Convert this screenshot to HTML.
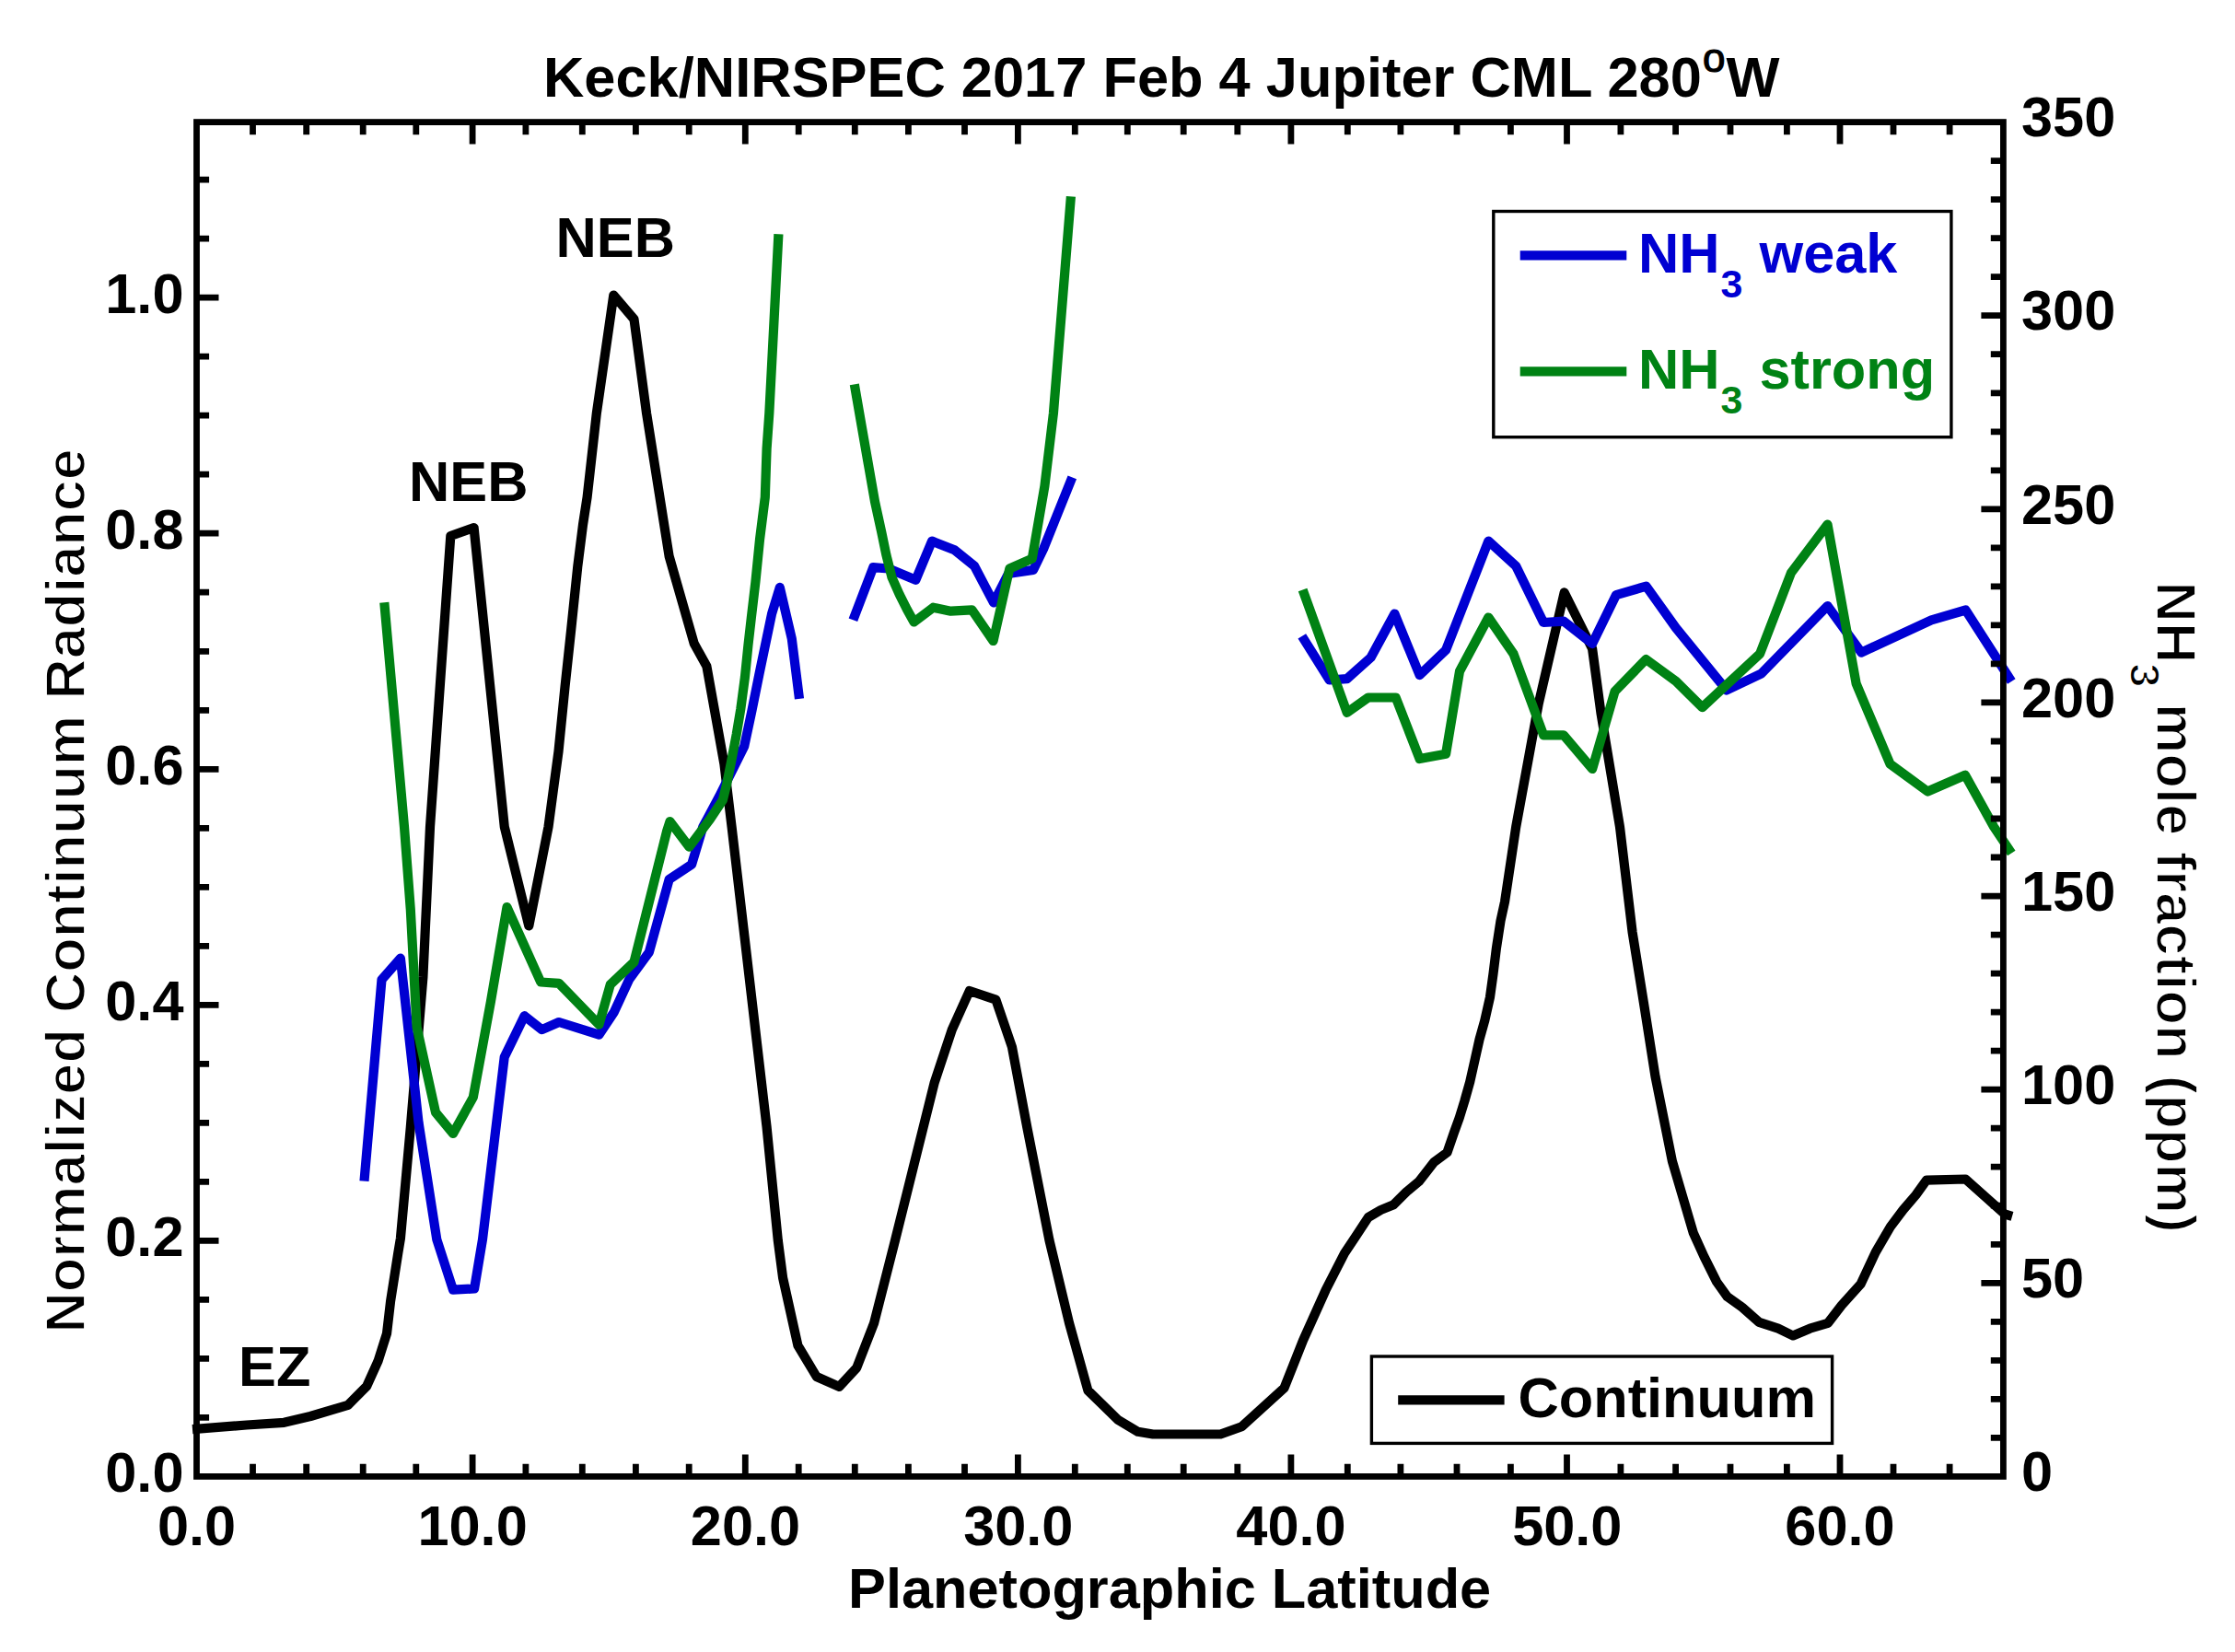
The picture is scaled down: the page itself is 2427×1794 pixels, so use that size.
<!DOCTYPE html>
<html><head><meta charset="utf-8"><title>Keck/NIRSPEC 2017 Feb 4 Jupiter</title>
<style>
html,body{margin:0;padding:0;background:#fff;}
svg{display:block;}
text{font-family:"Liberation Sans",sans-serif;font-weight:bold;font-size:61.3px;fill:#000;}
text.thin{stroke:#fff;stroke-width:1.8px;}
</style></head><body>
<svg width="2427" height="1794" viewBox="0 0 2427 1794">
<rect x="0" y="0" width="2427" height="1794" fill="#fff"/>
<polyline points="209.0,1552.1 267.8,1547.5 308.5,1544.8 337.1,1538.0 377.9,1525.8 398.2,1505.4 410.5,1478.2 420.0,1448.3 424.1,1413.0 432.2,1361.3 434.9,1345.0 445.8,1224.2 459.4,1061.1 467.0,898.0 489.3,582.0 514.6,573.0 547.8,898.0 574.3,1005.5 595.5,898.0 601.0,856.8 606.5,816.0 613.4,747.0 620.3,682.6 627.2,615.9 633.0,569.9 637.6,540.0 647.8,449.0 666.3,320.5 688.5,346.6 702.1,449.0 726.6,604.0 753.8,699.1 767.4,723.6 786.4,829.6 794.6,898.0 813.6,1061.1 832.6,1224.2 844.8,1347.0 850.1,1387.7 866.4,1461.1 886.7,1495.0 911.2,1505.9 930.2,1485.5 949.2,1436.6 972.0,1347.0 1014.8,1175.3 1033.8,1118.2 1052.8,1076.0 1081.4,1085.6 1099.0,1137.2 1115.3,1224.2 1139.5,1347.0 1161.0,1436.6 1181.4,1510.0 1214.0,1541.8 1235.7,1554.8 1252.0,1557.5 1325.4,1557.5 1348.4,1549.3 1394.6,1507.2 1415.0,1455.6 1439.4,1401.3 1460.0,1361.0 1472.0,1343.0 1485.8,1322.0 1499.6,1313.9 1513.4,1308.2 1527.2,1294.4 1541.0,1282.9 1557.1,1262.2 1571.5,1251.5 1578.9,1230.0 1584.7,1213.9 1590.4,1195.5 1596.2,1174.8 1601.9,1149.5 1606.5,1128.8 1612.3,1108.1 1618.0,1082.8 1621.5,1057.5 1624.9,1029.9 1629.5,1000.0 1634.0,979.5 1646.2,898.0 1670.7,764.3 1698.7,643.4 1729.1,704.5 1738.6,775.2 1759.0,898.0 1772.6,1012.2 1784.8,1088.3 1797.5,1169.0 1809.0,1226.5 1815.9,1261.0 1827.4,1300.1 1838.9,1339.2 1850.4,1364.5 1864.2,1392.1 1875.7,1408.2 1891.8,1419.7 1910.2,1435.8 1930.9,1442.7 1947.0,1450.5 1965.4,1442.7 1984.9,1436.9 1999.9,1417.4 2020.6,1394.4 2036.7,1359.9 2052.8,1332.3 2066.6,1313.9 2080.4,1297.8 2091.9,1281.7 2134.4,1280.5 2177.0,1318.5 2185.0,1320.8" fill="none" stroke="#000" stroke-width="10.2" stroke-linejoin="round" stroke-linecap="butt"/>
<polyline points="395.5,1282.6 414.5,1063.8 434.9,1040.7 454.5,1218.8 474.3,1346.0 492.0,1400.7 515.1,1399.4 524.0,1346.0 547.7,1148.1 569.5,1103.2 588.5,1118.2 607.0,1110.0 650.5,1123.6 666.8,1099.2 683.1,1063.8 704.9,1033.9 726.6,955.1 751.1,938.8 763.3,898.0 781.0,865.0 808.2,810.5 816.3,772.5 824.5,731.7 838.1,666.5 846.8,637.9 859.8,693.7 868.0,758.9" fill="none" stroke="#0000d2" stroke-width="10.2" stroke-linejoin="round" stroke-linecap="butt"/>
<polyline points="926.4,673.3 948.2,616.2 965.0,617.5 994.4,629.8 1012.0,587.6 1036.5,597.2 1058.2,614.8 1079.0,654.5 1095.0,623.0 1122.1,618.9 1133.1,596.1 1145.5,565.2 1164.3,518.3" fill="none" stroke="#0000d2" stroke-width="10.2" stroke-linejoin="round" stroke-linecap="butt"/>
<polyline points="1413.8,690.9 1443.7,738.5 1462.7,737.1 1488.6,714.0 1514.4,666.5 1541.6,733.1 1570.1,705.9 1616.3,587.6 1646.2,614.8 1676.1,676.0 1697.9,674.6 1729.1,699.1 1755.0,646.1 1787.6,636.6 1820.0,682.0 1875.0,749.5 1912.4,731.7 1984.5,658.0 2021.2,708.6 2097.3,673.3 2134.5,662.5 2184.3,739.9" fill="none" stroke="#0000d2" stroke-width="10.2" stroke-linejoin="round" stroke-linecap="butt"/>
<polyline points="417.3,654.2 439.0,898.0 445.8,987.7 452.6,1115.5 473.0,1207.9 492.0,1231.0 513.8,1191.6 532.8,1088.3 550.5,985.0 587.2,1066.5 607.0,1067.9 650.5,1112.7 662.7,1069.3 688.5,1044.8 723.9,903.4 727.5,892.0 748.4,919.7 771.0,889.6 784.8,868.9 789.4,850.5 794.0,827.5 799.7,797.6 804.3,770.0 808.9,735.5 812.4,701.0 815.8,671.1 820.4,632.0 825.0,586.0 830.8,540.0 832.6,487.1 835.3,449.0 845.4,254.2" fill="none" stroke="#008214" stroke-width="10.2" stroke-linejoin="round" stroke-linecap="butt"/>
<polyline points="927.8,417.3 935.6,462.3 942.8,503.5 950.0,544.6 957.2,577.6 962.3,602.3 968.5,627.0 976.7,645.5 985.0,662.0 992.5,675.5 1013.4,659.7 1032.4,663.7 1055.5,662.4 1078.6,696.0 1096.3,617.5 1120.8,606.7 1134.4,527.8 1143.9,449.0 1162.9,213.4" fill="none" stroke="#008214" stroke-width="10.2" stroke-linejoin="round" stroke-linecap="butt"/>
<polyline points="1414.6,640.6 1462.7,773.8 1485.8,757.5 1515.7,757.5 1541.6,824.1 1570.1,818.7 1585.0,729.0 1616.3,670.5 1643.5,710.0 1676.1,798.3 1697.9,798.3 1729.1,835.0 1753.6,750.7 1787.4,716.0 1820.0,739.9 1848.5,768.2 1911.1,710.0 1945.0,622.0 1984.5,569.5 2015.7,742.6 2052.4,829.6 2093.2,859.5 2134.0,841.8 2165.2,898.0 2184.3,926.5" fill="none" stroke="#008214" stroke-width="10.2" stroke-linejoin="round" stroke-linecap="butt"/>
<rect x="213.5" y="132.6" width="1961.9" height="1470.8" fill="none" stroke="#000" stroke-width="6.8"/>
<path d="M274.5 1603.4 v-13.6 M274.5 132.6 v13.6 M332.7 1603.4 v-13.6 M332.7 132.6 v13.6 M394.2 1603.4 v-13.6 M394.2 132.6 v13.6 M451.8 1603.4 v-13.6 M451.8 132.6 v13.6 M513.1 1603.4 v-24.0 M513.1 132.6 v24.0 M570.9 1603.4 v-13.6 M570.9 132.6 v13.6 M632.3 1603.4 v-13.6 M632.3 132.6 v13.6 M690.4 1603.4 v-13.6 M690.4 132.6 v13.6 M748.2 1603.4 v-13.6 M748.2 132.6 v13.6 M809.3 1603.4 v-24.0 M809.3 132.6 v24.0 M867.2 1603.4 v-13.6 M867.2 132.6 v13.6 M928.3 1603.4 v-13.6 M928.3 132.6 v13.6 M986.4 1603.4 v-13.6 M986.4 132.6 v13.6 M1047.5 1603.4 v-13.6 M1047.5 132.6 v13.6 M1105.4 1603.4 v-24.0 M1105.4 132.6 v24.0 M1167.3 1603.4 v-13.6 M1167.3 132.6 v13.6 M1224.3 1603.4 v-13.6 M1224.3 132.6 v13.6 M1285.2 1603.4 v-13.6 M1285.2 132.6 v13.6 M1343.8 1603.4 v-13.6 M1343.8 132.6 v13.6 M1401.9 1603.4 v-24.0 M1401.9 132.6 v24.0 M1463.3 1603.4 v-13.6 M1463.3 132.6 v13.6 M1520.9 1603.4 v-13.6 M1520.9 132.6 v13.6 M1582.0 1603.4 v-13.6 M1582.0 132.6 v13.6 M1640.4 1603.4 v-13.6 M1640.4 132.6 v13.6 M1701.5 1603.4 v-24.0 M1701.5 132.6 v24.0 M1759.9 1603.4 v-13.6 M1759.9 132.6 v13.6 M1819.6 1603.4 v-13.6 M1819.6 132.6 v13.6 M1879.0 1603.4 v-13.6 M1879.0 132.6 v13.6 M1940.4 1603.4 v-13.6 M1940.4 132.6 v13.6 M1998.0 1603.4 v-24.0 M1998.0 132.6 v24.0 M2056.0 1603.4 v-13.6 M2056.0 132.6 v13.6 M2117.1 1603.4 v-13.6 M2117.1 132.6 v13.6 M213.5 1539.4 h13.6 M213.5 1475.4 h13.6 M213.5 1411.4 h13.6 M213.5 1347.4 h24.0 M213.5 1283.4 h13.6 M213.5 1219.3 h13.6 M213.5 1155.3 h13.6 M213.5 1091.3 h24.0 M213.5 1027.3 h13.6 M213.5 963.3 h13.6 M213.5 899.3 h13.6 M213.5 835.3 h24.0 M213.5 771.3 h13.6 M213.5 707.3 h13.6 M213.5 643.2 h13.6 M213.5 579.2 h24.0 M213.5 515.2 h13.6 M213.5 451.2 h13.6 M213.5 387.2 h13.6 M213.5 323.2 h24.0 M213.5 259.2 h13.6 M213.5 195.2 h13.6 M2175.4 1561.4 h-13.6 M2175.4 1519.4 h-13.6 M2175.4 1477.3 h-13.6 M2175.4 1435.3 h-13.6 M2175.4 1393.3 h-24.0 M2175.4 1351.3 h-13.6 M2175.4 1309.2 h-13.6 M2175.4 1267.2 h-13.6 M2175.4 1225.2 h-13.6 M2175.4 1183.2 h-24.0 M2175.4 1141.1 h-13.6 M2175.4 1099.1 h-13.6 M2175.4 1057.1 h-13.6 M2175.4 1015.1 h-13.6 M2175.4 973.1 h-24.0 M2175.4 931.0 h-13.6 M2175.4 889.0 h-13.6 M2175.4 847.0 h-13.6 M2175.4 805.0 h-13.6 M2175.4 762.9 h-24.0 M2175.4 720.9 h-13.6 M2175.4 678.9 h-13.6 M2175.4 636.9 h-13.6 M2175.4 594.9 h-13.6 M2175.4 552.8 h-24.0 M2175.4 510.8 h-13.6 M2175.4 468.8 h-13.6 M2175.4 426.8 h-13.6 M2175.4 384.7 h-13.6 M2175.4 342.7 h-24.0 M2175.4 300.7 h-13.6 M2175.4 258.7 h-13.6 M2175.4 216.6 h-13.6 M2175.4 174.6 h-13.6" stroke="#000" stroke-width="6.8" fill="none"/>
<text x="213.5" y="1678" text-anchor="middle">0.0</text>
<text x="513.1" y="1678" text-anchor="middle">10.0</text>
<text x="809.5" y="1678" text-anchor="middle">20.0</text>
<text x="1105.8" y="1678" text-anchor="middle">30.0</text>
<text x="1402.0" y="1678" text-anchor="middle">40.0</text>
<text x="1701.8" y="1678" text-anchor="middle">50.0</text>
<text x="1998.0" y="1678" text-anchor="middle">60.0</text>
<text x="199.5" y="1619.7" text-anchor="end">0.0</text>
<text x="199.5" y="1363.7" text-anchor="end">0.2</text>
<text x="199.5" y="1107.6" text-anchor="end">0.4</text>
<text x="199.5" y="851.6" text-anchor="end">0.6</text>
<text x="199.5" y="595.5" text-anchor="end">0.8</text>
<text x="199.5" y="339.5" text-anchor="end">1.0</text>
<text x="2195" y="1619.1">0</text>
<text x="2195" y="1409.0">50</text>
<text x="2195" y="1198.9">100</text>
<text x="2195" y="988.8">150</text>
<text x="2195" y="778.6">200</text>
<text x="2195" y="568.5">250</text>
<text x="2195" y="358.4">300</text>
<text x="2195" y="148.3">350</text>
<text id="title" x="590" y="104.6" style="font-size:61.4px">Keck/NIRSPEC 2017 Feb 4 Jupiter CML 280<tspan style="font-size:44px;font-weight:normal;stroke:#000;stroke-width:1.2px" dy="-27" dx="1">o</tspan><tspan dy="27" dx="1">W</tspan></text>
<text id="xt" x="921" y="1746.2">Planetographic Latitude</text>
<text id="yl" class="thin" transform="translate(91.5,1447.5) rotate(-90)">Normalized Continuum Radiance</text>
<text id="yr" class="thin" style="letter-spacing:0.15px" transform="translate(2341.5,631.5) rotate(90)">NH<tspan style="font-size:47px" dy="29">3</tspan><tspan dy="-29"> mole fraction (ppm)</tspan></text>
<text id="neb1" x="444" y="544.3">NEB</text>
<text id="neb2" x="603.5" y="278.7">NEB</text>
<text id="ez" x="259" y="1504.8">EZ</text>
<rect x="1621.8" y="229.5" width="497.1" height="245.2" fill="#fff" stroke="#000" stroke-width="3.4"/>
<path d="M1650.7 277.4 H1766.3" stroke="#0000d2" stroke-width="10.2"/>
<path d="M1650.7 403.4 H1766.3" stroke="#008214" stroke-width="10.2"/>
<text id="lg1" x="1779" y="295.8" style="fill:#0000d2">NH<tspan style="font-size:43px" dy="27" dx="1">3</tspan><tspan dy="-27" dx="1"> weak</tspan></text>
<text id="lg2" x="1779" y="421.9" style="fill:#008214">NH<tspan style="font-size:43px" dy="27" dx="1">3</tspan><tspan dy="-27" dx="1"> strong</tspan></text>
<rect x="1489.4" y="1473" width="500.2" height="94.4" fill="#fff" stroke="#000" stroke-width="3.4"/>
<path d="M1518.2 1520.3 H1633.6" stroke="#000" stroke-width="10.2"/>
<text id="lg3" x="1648.5" y="1538.5">Continuum</text>
</svg></body></html>
